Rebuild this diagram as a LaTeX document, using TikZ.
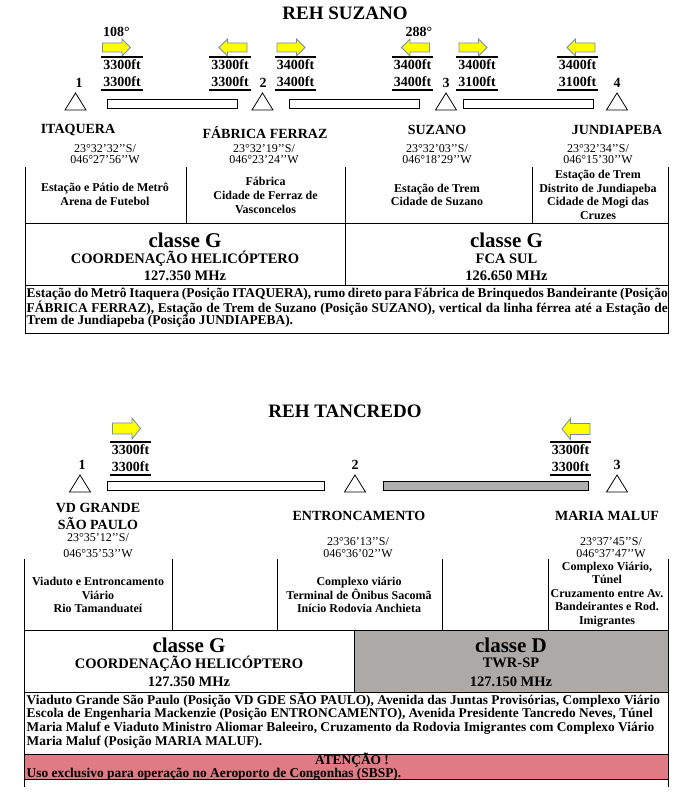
\documentclass[tikz,border=0pt]{standalone}
\usepackage{fontspec}
\setmainfont{Liberation Serif}
\definecolor{arrowfill}{HTML}{FFFF00}
\definecolor{arrowline}{HTML}{6F8DB5}
\definecolor{cellgray}{HTML}{ADA9A7}
\definecolor{bargray}{HTML}{B0B0B0}
\definecolor{trigray}{HTML}{7F7F7F}
\definecolor{alertpink}{HTML}{E07A84}
\tikzset{
  title/.style={font=\fontsize{19}{22}\selectfont\bfseries, inner sep=0},
  num/.style={font=\fontsize{14}{16}\selectfont\bfseries, inner sep=0},
  hdg/.style={font=\fontsize{14}{16}\selectfont\bfseries, inner sep=0},
  altbox/.style={font=\fontsize{14}{17}\selectfont\bfseries, align=center, inner sep=0, minimum width=41pt, minimum height=33pt},
  rule/.style={line width=2.4pt},
  pname/.style={font=\fontsize{14}{17}\selectfont\bfseries, align=center, inner sep=0},
  coord/.style={font=\fontsize{12}{11.7}\selectfont, align=center, inner sep=0},
  coordwide/.style={font=\fontsize{12}{16}\selectfont, align=center, inner sep=0},
  cell/.style={font=\fontsize{12}{13.6}\selectfont\bfseries, align=center, inner sep=0},
  classe/.style={font=\fontsize{21}{24}\selectfont\bfseries, inner sep=0},
  freq/.style={font=\fontsize{14.5}{17}\selectfont\bfseries, inner sep=0},
  desc/.style={font=\fontsize{13.4}{14}\selectfont\bfseries, inner sep=0, anchor=west},
  tight/.style={text height=8pt, text depth=1pt},
  frame/.style={draw=black, line width=0.9pt},
  bar/.style={draw=black, line width=0.9pt},
  tri/.style={draw=black, line width=0.8pt},
  blockarr/.pic={\path[draw=arrowline, fill=arrowfill, line width=0.8pt]
     (-14,-4.5) -- (5.5,-4.5) -- (5.5,-8.5) -- (14,0) -- (5.5,8.5) -- (5.5,4.5) -- (-14,4.5) -- cycle;},
  trishape/.pic={\path[tri] (-10.5,8.5) -- (0,-8.5) -- (10.5,8.5) -- cycle;},
}
\newcommand\altgrp[4]{%
  \node[altbox] (#1) at (#2,#3) {#4};
  \draw[rule] (#1.north west) -- (#1.north east);
  \draw[rule] (#1.south west) -- (#1.south east);
}
\begin{document}
\begin{tikzpicture}[x=1pt,y=-1pt]
\useasboundingbox[fill=white] (0,0) rectangle (681,799);

%% ================= REH SUZANO =================
\node[title] (t1) at (345,13) {REH SUZANO};

\node[hdg] (h108) at (116.5,32) {108°};
\node[hdg] (h288) at (419,32) {288°};

\pic (a11) at (116.5,47.5) {blockarr};
\pic[xscale=-1] (a12) at (233,47.5) {blockarr};
\pic (a21) at (291,47.5) {blockarr};
\pic[xscale=-1] (a22) at (415.5,47.5) {blockarr};
\pic (a31) at (473,47.5) {blockarr};
\pic[xscale=-1] (a32) at (581,47.5) {blockarr};

\altgrp{g11}{122}{73.5}{3300ft\\3300ft}
\altgrp{g12}{230}{73.5}{3300ft\\3300ft}
\altgrp{g21}{295.5}{73.5}{3400ft\\3400ft}
\altgrp{g22}{412.5}{73.5}{3400ft\\3400ft}
\altgrp{g31}{477}{73.5}{3400ft\\3100ft}
\altgrp{g32}{577.5}{73.5}{3400ft\\3100ft}

\node[num] (n1) at (79,83) {1};
\node[num] (n2) at (263,83) {2};
\node[num] (n3) at (446,83) {3};
\node[num] (n4) at (617,83) {4};

\pic[fill=white] at (75.5,101.5) {trishape};
\pic[fill=white] at (262.5,101.5) {trishape};
\pic[fill=white] at (446,101.5) {trishape};
\pic[fill=white] at (617,101.5) {trishape};

\draw[bar, fill=white] (107,99) rectangle (237,108);
\draw[bar, fill=white] (289,99) rectangle (419,108);
\draw[bar, fill=white] (463,99) rectangle (593,108);

\node[pname] (p1) at (78,130) {ITAQUERA};
\node[pname] (p2) at (265,133) {FÁBRICA FERRAZ};
\node[pname] (p3) at (437,130) {SUZANO};
\node[pname] (p4) at (617,130) {JUNDIAPEBA};

\node[coord] (c1) at (105,154) {23°32’32’’S/\\046°27’56’’W};
\node[coord] (c2) at (264,154) {23°32’19’’S/\\046°23’24’’W};
\node[coord] (c3) at (437,154) {23°32’03’’S/\\046°18’29’’W};
\node[coord] (c4) at (598,154) {23°32’34’’S/\\046°15’30’’W};

% cell grid
\draw[frame] (25,167) -- (25,223);
\draw[frame] (186,167) -- (186,223);
\draw[frame] (345,167) -- (345,223);
\draw[frame] (532,167) -- (532,223);
\draw[frame] (668,167) -- (668,223);

\node[cell] (d1) at (105,194.5) {Estação e Pátio de Metrô\\Arena de Futebol};
\node[cell] (d2) at (265.5,195.5) {Fábrica\\Cidade de Ferraz de\\Vasconcelos};
\node[cell] (d3) at (437,195) {Estação de Trem\\Cidade de Suzano};
\node[cell] (d4) at (598,195) {Estação de Trem\\Distrito de Jundiapeba\\Cidade de Mogi das\\Cruzes};

% frequency row
\draw[frame] (25,223) rectangle (345,285);
\draw[frame] (345,223) rectangle (668,285);
\node[classe] (k1) at (185,240) {classe G};
\node[freq] (f1) at (185,259) {COORDENAÇÃO HELICÓPTERO};
\node[freq] (m1) at (185,275.5) {127.350 MHz};
\node[classe] (k2) at (506.5,240) {classe G};
\node[freq] (f2) at (506.5,259) {FCA SUL};
\node[freq] (m2) at (506.5,275.5) {126.650 MHz};

% description
\draw[frame] (25,285) rectangle (668,333);
\node[desc] (s1) at (26.5,294.5) {\makebox[641pt][s]{Estação do Metrô Itaquera (Posição ITAQUERA), rumo direto para Fábrica de Brinquedos Bandeirante (Posição}};
\node[desc] (s2) at (26.5,308) {\makebox[641pt][s]{FÁBRICA FERRAZ), Estação de Trem de Suzano (Posição SUZANO), vertical da linha férrea até a Estação de}};
\node[desc] (s3) at (26.5,321.5) {Trem de Jundiapeba (Posição JUNDIAPEBA).};

%% ================= REH TANCREDO =================
\node[title] (t2) at (345,411) {REH TANCREDO};

\pic[yscale=1.24] (b1) at (126.5,428.5) {blockarr};
\pic[xscale=-1, yscale=1.24] (b2) at (576,429) {blockarr};

\altgrp{q1}{130.5}{458.5}{3300ft\\3300ft}
\altgrp{q2}{570.5}{458.5}{3300ft\\3300ft}

\node[num] (m21) at (82,465) {1};
\node[num] (m22) at (355,465) {2};
\node[num] (m23) at (617,465) {3};

\pic[fill=white] at (80,483.5) {trishape};
\pic[fill=trigray] at (355,483.5) {trishape};
\pic[fill=trigray] at (617,483.5) {trishape};

\draw[bar, fill=white] (107,481) rectangle (324,490);
\draw[bar, fill=bargray] (383,481) rectangle (588,490);

\node[pname] (r1) at (98,516.5) {VD GRANDE\\SÃO PAULO};
\node[pname] (r2) at (359,516) {ENTRONCAMENTO};
\node[pname] (r3) at (607,516) {MARIA MALUF};

\node[coordwide] (e1) at (98,545.5) {23°35’12’’S/\\046°35’53’’W};
\node[coord] (e2) at (358,547.5) {23°36’13’’S/\\046°36’02’’W};
\node[coord] (e3) at (611,547.5) {23°37’45’’S/\\046°37’47’’W};

\draw[frame] (24,559) -- (24,630);
\draw[frame] (172,559) -- (172,630);
\draw[frame] (277,559) -- (277,630);
\draw[frame] (442,559) -- (442,630);
\draw[frame] (548,559) -- (548,630);
\draw[frame] (668,559) -- (668,630);

\node[cell] (u1) at (98,595) {Viaduto e Entroncamento\\Viário\\Rio Tamanduateí};
\node[cell] (u3) at (359,595) {Complexo viário\\Terminal de Ônibus Sacomã\\Início Rodovia Anchieta};
\node[cell] (u5) at (607,594.5) {Complexo Viário,\\Túnel\\Cruzamento entre Av.\\Bandeirantes e Rod.\\Imigrantes};

\draw[frame, fill=white] (24,630) rectangle (354,692);
\draw[frame, fill=cellgray] (354,630) rectangle (668,692);
\node[classe] (k3) at (189,645) {classe G};
\node[freq] (f3) at (189,664) {COORDENAÇÃO HELICÓPTERO};
\node[freq] (m3) at (189,682) {127.350 MHz};
\node[classe] (k4) at (511,645) {classe D};
\node[freq] (f4) at (511,663) {TWR-SP};
\node[freq] (m4) at (511,682) {127.150 MHz};

\draw[frame] (24,692) rectangle (668,754);
\node[desc] (v1) at (26.5,700.5) {Viaduto Grande São Paulo (Posição VD GDE SÃO PAULO), Avenida das Juntas Provisórias, Complexo Viário};
\node[desc] (v2) at (26.5,714.5) {Escola de Engenharia Mackenzie (Posição ENTRONCAMENTO), Avenida Presidente Tancredo Neves, Túnel};
\node[desc] (v3) at (26.5,728.5) {Maria Maluf e Viaduto Ministro Aliomar Baleeiro, Cruzamento da Rodovia Imigrantes com Complexo Viário};
\node[desc] (v4) at (26.5,742.5) {Maria Maluf (Posição MARIA MALUF).};

\draw[frame, fill=alertpink] (24,754) rectangle (668,779);
\draw[frame] (24,779) -- (24,787);
\draw[frame] (668,779) -- (668,787);
\node[desc, tight, anchor=center] (w1) at (352,760.5) {ATENÇÃO !};
\node[desc, tight] (w2) at (26.5,773.5) {Uso exclusivo para operação no Aeroporto de Congonhas (SBSP).};
\end{tikzpicture}
\end{document}
